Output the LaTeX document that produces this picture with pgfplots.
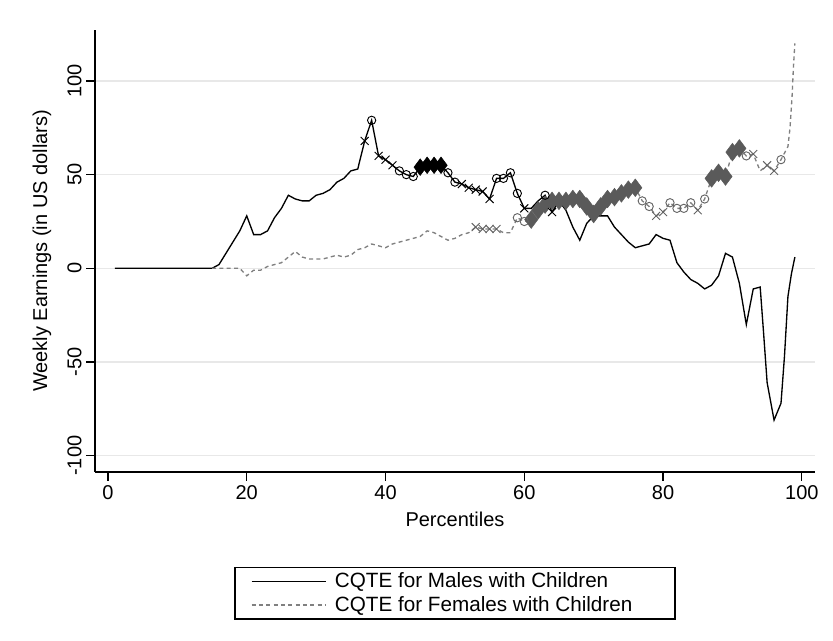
\documentclass[border=0pt]{standalone}
\usepackage{fontspec}
\setmainfont{Liberation Sans}
\usepackage{pgfplots}
\pgfplotsset{compat=1.18}
\definecolor{femline}{RGB}{128,128,128}
\definecolor{femmark}{RGB}{100,100,100}
\definecolor{femdia}{RGB}{90,90,90}
\definecolor{gridc}{RGB}{232,232,232}
\pgfplotstableread{
x y
1 0
15 0
16 2
17 8
18 14
19 20
20 28
21 18
22 18
23 20
24 27
25 32
26 39
27 37
28 36
29 36
30 39
31 40
32 42
33 46
34 48
35 52
36 53
37 68
38 79
39 60
40 58
41 55
42 52
43 50
44 49
45 54
46 55
47 55
48 55
49 51
50 46
51 45
52 43
53 42
54 41
55 37
56 48
57 48
58 51
59 40
60 32
61 32
62 36
63 39
64 30
65 36
66 31
67 22
68 15
69 24
70 28
71 28
72 28
73 22
74 18
75 14
76 11
77 12
78 13
79 18
80 16
81 15
82 3
83 -2
84 -6
85 -8
86 -11
87 -9
88 -4
89 8
90 6
91 -8
92 -30
93 -11
94 -10
94.5 -35
95 -61
96 -81
97 -72
97.5 -47
98 -15
98.5 -3
99 6
}\male
\pgfplotstableread{
x y
15 0
16 0
17 0
18 0
19 0
20 -4
21 -1
22 -1
23 1
24 2
25 3
26 6
27 9
28 6
29 5
30 5
31 5
32 6
33 7
34 6
35 7
36 10
37 11
38 13
39 12
40 11
41 13
42 14
43 15
44 16
45 17
46 20
47 19
48 17
49 15
50 16
51 18
52 19
53 22
54 21
55 21
56 21
57 19
58 19
59 27
60 25
61 26
62 31
63 34
64 36
65 36
66 36
67 37
68 37
69 33
70 29
71 33
72 37
73 38
74 40
75 42
76 43
77 36
78 33
79 28
80 30
81 35
82 32
83 32
84 35
85 31
86 37
87 48
88 51
89 49
90 62
91 64
92 60
93 61
94 52
95 55
96 52
97 58
98 65
98.3 75
98.6 92
98.8 108
99 120
}\female
\begin{document}
\begin{tikzpicture}
\begin{axis}[
  scale only axis, width=540pt, height=331.5pt,
  xmin=-1.87, xmax=101.9, ymin=-108.7, ymax=127.2,
  axis x line*=bottom, axis y line*=left,
  xtick={0,20,40,60,80,100}, ytick={-100,-50,0,50,100},
  tick align=outside, major tick length=6.5pt,
  ymajorgrids, grid style={gridc, line width=1.1pt},
  axis line style={line width=0.9pt},
  tick style={black, line width=0.9pt},
  /pgf/number format/assume math mode=true,
  ticklabel style={font=\fontsize{15}{18}\selectfont},
  yticklabel style={rotate=90, anchor=south},
  xlabel={Percentiles}, ylabel={Weekly Earnings (in US dollars)},
  label style={font=\fontsize{15}{18}\selectfont},
  xlabel style={at={(axis description cs:0.5,-0.1063)}, anchor=center},
  ylabel style={at={(axis description cs:-0.0736,0.5)}, anchor=center},
  legend style={at={(0.5,-0.215)}, anchor=north, draw=black, line width=0.9pt,
    font=\fontsize{15.5}{18.5}\selectfont, legend cell align=left,
    inner xsep=3pt, inner ysep=2pt, row sep=1pt},
  legend image code/.code={\path (-9pt,0pt) (60pt,0pt); \draw[#1] (0pt,0pt) -- (56pt,0pt);},
]
\addplot[black, line width=1pt] table {\male};
\addlegendentry{CQTE for Males with Children}
\addplot[femline, line width=1pt, dash pattern=on 3pt off 2.5pt] table {\female};
\addlegendentry{CQTE for Females with Children\hspace*{27pt}}
% female markers
\addplot[forget plot, only marks, mark=diamond*, mark size=6.6pt, femdia, mark options={draw=femdia, fill=femdia}] coordinates {
(61,26) (62,31) (63,34) (64,36) (65,36) (66,36) (67,37) (68,37) (69,33) (70,29) (71,33) (72,37) (73,38) (74,40) (75,42) (76,43)
(87,48) (88,51) (89,49) (90,62) (91,64)};
\addplot[forget plot, only marks, mark=o, mark size=3.1pt, femmark, mark options={line width=0.7pt}] coordinates {
(59,27) (60,25) (77,36) (78,33) (81,35) (82,32) (83,32) (84,35) (86,37) (92,60) (97,58)};
\addplot[forget plot, only marks, mark=x, mark size=4.2pt, femmark, mark options={line width=0.7pt}] coordinates {
(53,22) (54,21) (55,21) (56,21) (79,28) (80,30) (85,31) (93,61) (95,55) (96,52)};
% male markers
\addplot[forget plot, only marks, mark=diamond*, mark size=6.2pt, black] coordinates {
(45,54) (46,55) (47,55) (48,55)};
\addplot[forget plot, only marks, mark=o, mark size=3.1pt, black, mark options={line width=0.7pt}] coordinates {
(38,79) (42,52) (43,50) (44,49) (49,51) (50,46) (56,48) (57,48) (58,51) (59,40) (63,39)};
\addplot[forget plot, only marks, mark=x, mark size=4.2pt, black, mark options={line width=0.7pt}] coordinates {
(37,68) (39,60) (40,58) (41,55) (51,45) (52,43) (53,42) (54,41) (55,37) (60,32) (64,30)};
\end{axis}
\pgfresetboundingbox
\path[use as bounding box] ([shift={(-71.25pt,-126.75pt)}]current axis.south west) rectangle ([shift={(13.5pt,22.5pt)}]current axis.north east);
\end{tikzpicture}
\end{document}
